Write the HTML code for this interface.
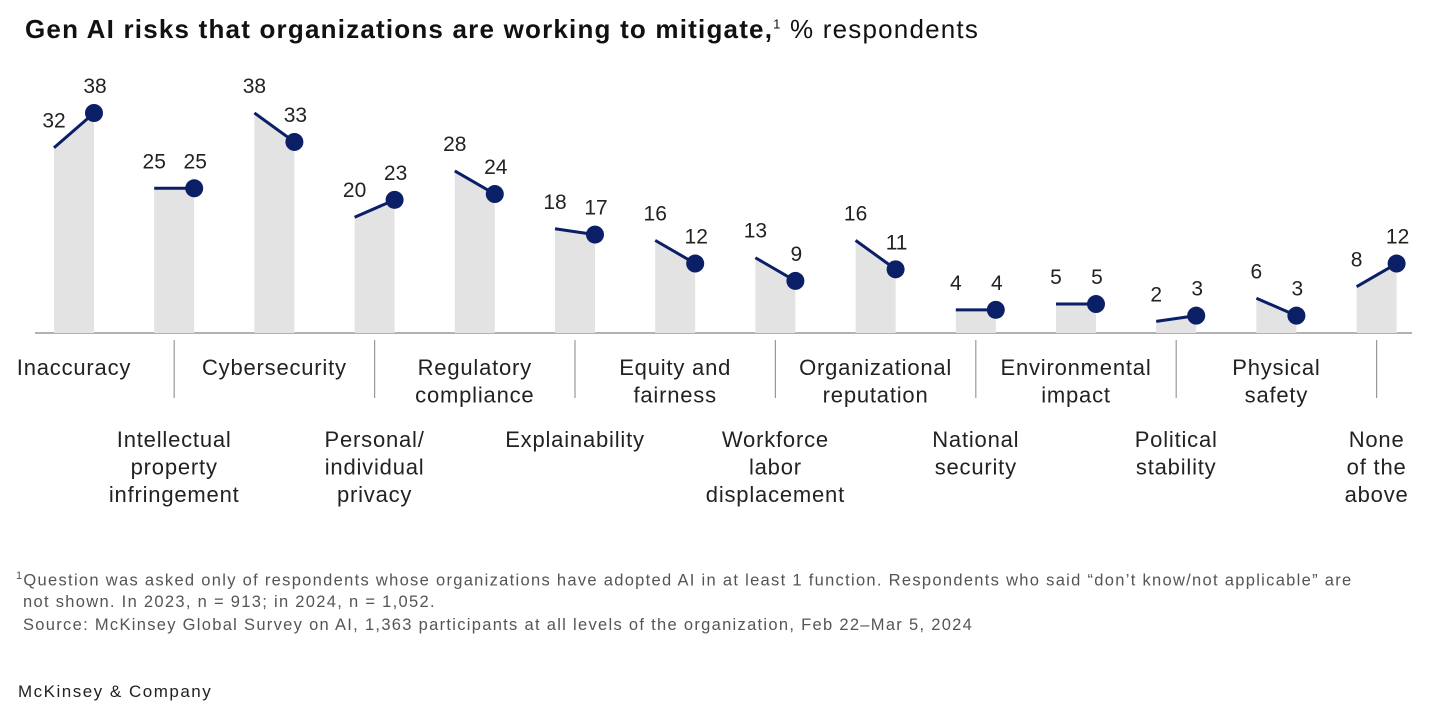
<!DOCTYPE html>
<html><head><meta charset="utf-8">
<style>
body{margin:0;background:#fff;font-family:"Liberation Sans",sans-serif;}
#wrap{position:relative;width:1432px;height:709px;overflow:hidden;}
.title{position:absolute;left:25px;top:14px;font-size:26px;color:#111;white-space:nowrap;letter-spacing:1.2px;}
.title b{font-weight:bold;}
.fn{position:absolute;left:16px;font-size:16.5px;color:#555;white-space:nowrap;letter-spacing:1.3px;}
.brand{position:absolute;left:18px;top:682px;font-size:17px;color:#222;letter-spacing:1.5px;}
</style></head><body>
<div id="wrap">
<div class="title"><b>Gen AI risks that organizations are working to mitigate,</b><sup style="font-size:13px">1</sup> % respondents</div>
<svg id="chart" width="1432" height="540" style="position:absolute;left:0;top:0"></svg>
<div class="fn" style="top:570px"><sup style="font-size:11px">1</sup>Question was asked only of respondents whose organizations have adopted AI in at least 1 function. Respondents who said “don’t know/not applicable” are</div>
<div class="fn" style="top:593px;left:23px">not shown. In 2023, n = 913; in 2024, n = 1,052.</div>
<div class="fn" style="top:616px;left:23px">Source: McKinsey Global Survey on AI, 1,363 participants at all levels of the organization, Feb 22–Mar 5, 2024</div>
<div class="brand">McKinsey &amp; Company</div>
</div>
<script>
const categories=[["Inaccuracy"],["Intellectual","property","infringement"],["Cybersecurity"],["Personal/","individual","privacy"],["Regulatory","compliance"],["Explainability"],["Equity and","fairness"],["Workforce","labor","displacement"],["Organizational","reputation"],["National","security"],["Environmental","impact"],["Political","stability"],["Physical","safety"],["None","of the","above"]];
const values2023=[32,25,38,20,28,18,16,13,16,4,5,2,6,8];
const values2024=[38,25,33,23,24,17,12,9,11,4,5,3,3,12];
const NS="http://www.w3.org/2000/svg";
const svg=document.getElementById('chart');
const base=333, scale=220/38, x0=94, step=100.2, bw=40;
const y=v=>base-v*scale;
const xr=i=>x0+i*step;
function mk(t,a){const e=document.createElementNS(NS,t);for(const k in a)e.setAttribute(k,a[k]);svg.appendChild(e);return e;}
const bl=mk('line',{x1:35,x2:1412,y1:base,y2:base,stroke:'#999','stroke-width':1.5});


categories.forEach((c,i)=>{
 const xR=xr(i), xL=xR-bw, a=values2023[i], b=values2024[i];
 const p=mk('polygon',{points:`${xL},${base} ${xL},${y(a)} ${xR},${y(b)} ${xR},${base}`,fill:'#e3e3e3'});
 
 
 const l=mk('line',{x1:xL,y1:y(a),x2:xR,y2:y(b),stroke:'#0b1f66','stroke-width':3});
 
 
 const d=mk('circle',{cx:xR,cy:y(b),r:9,fill:'#0b1f66'});
 
 
 const t1=mk('text',{x:xL,y:y(a)-20,'text-anchor':'middle','font-size':21,fill:'#222'});t1.textContent=a;
 
 
 const t2=mk('text',{x:xR+1,y:y(b)-20,'text-anchor':'middle','font-size':21,fill:'#222'});t2.textContent=b;
 
 
 const cx=xR-20, odd=i%2==1, y0=odd?447:375;
 if(odd){const v=mk('line',{x1:cx,x2:cx,y1:340,y2:398,stroke:'#999','stroke-width':1.2});
  
  }
 const tx=mk('text',{x:cx,y:y0,'text-anchor':'middle','font-size':22,fill:'#222','letter-spacing':'0.8px'});
 
 
 c.forEach((s,j)=>{const ts=document.createElementNS(NS,'tspan');ts.setAttribute('x',cx);ts.setAttribute('y',y0+j*27.5);ts.textContent=s;tx.appendChild(ts);});
});
</script>
</body></html>
